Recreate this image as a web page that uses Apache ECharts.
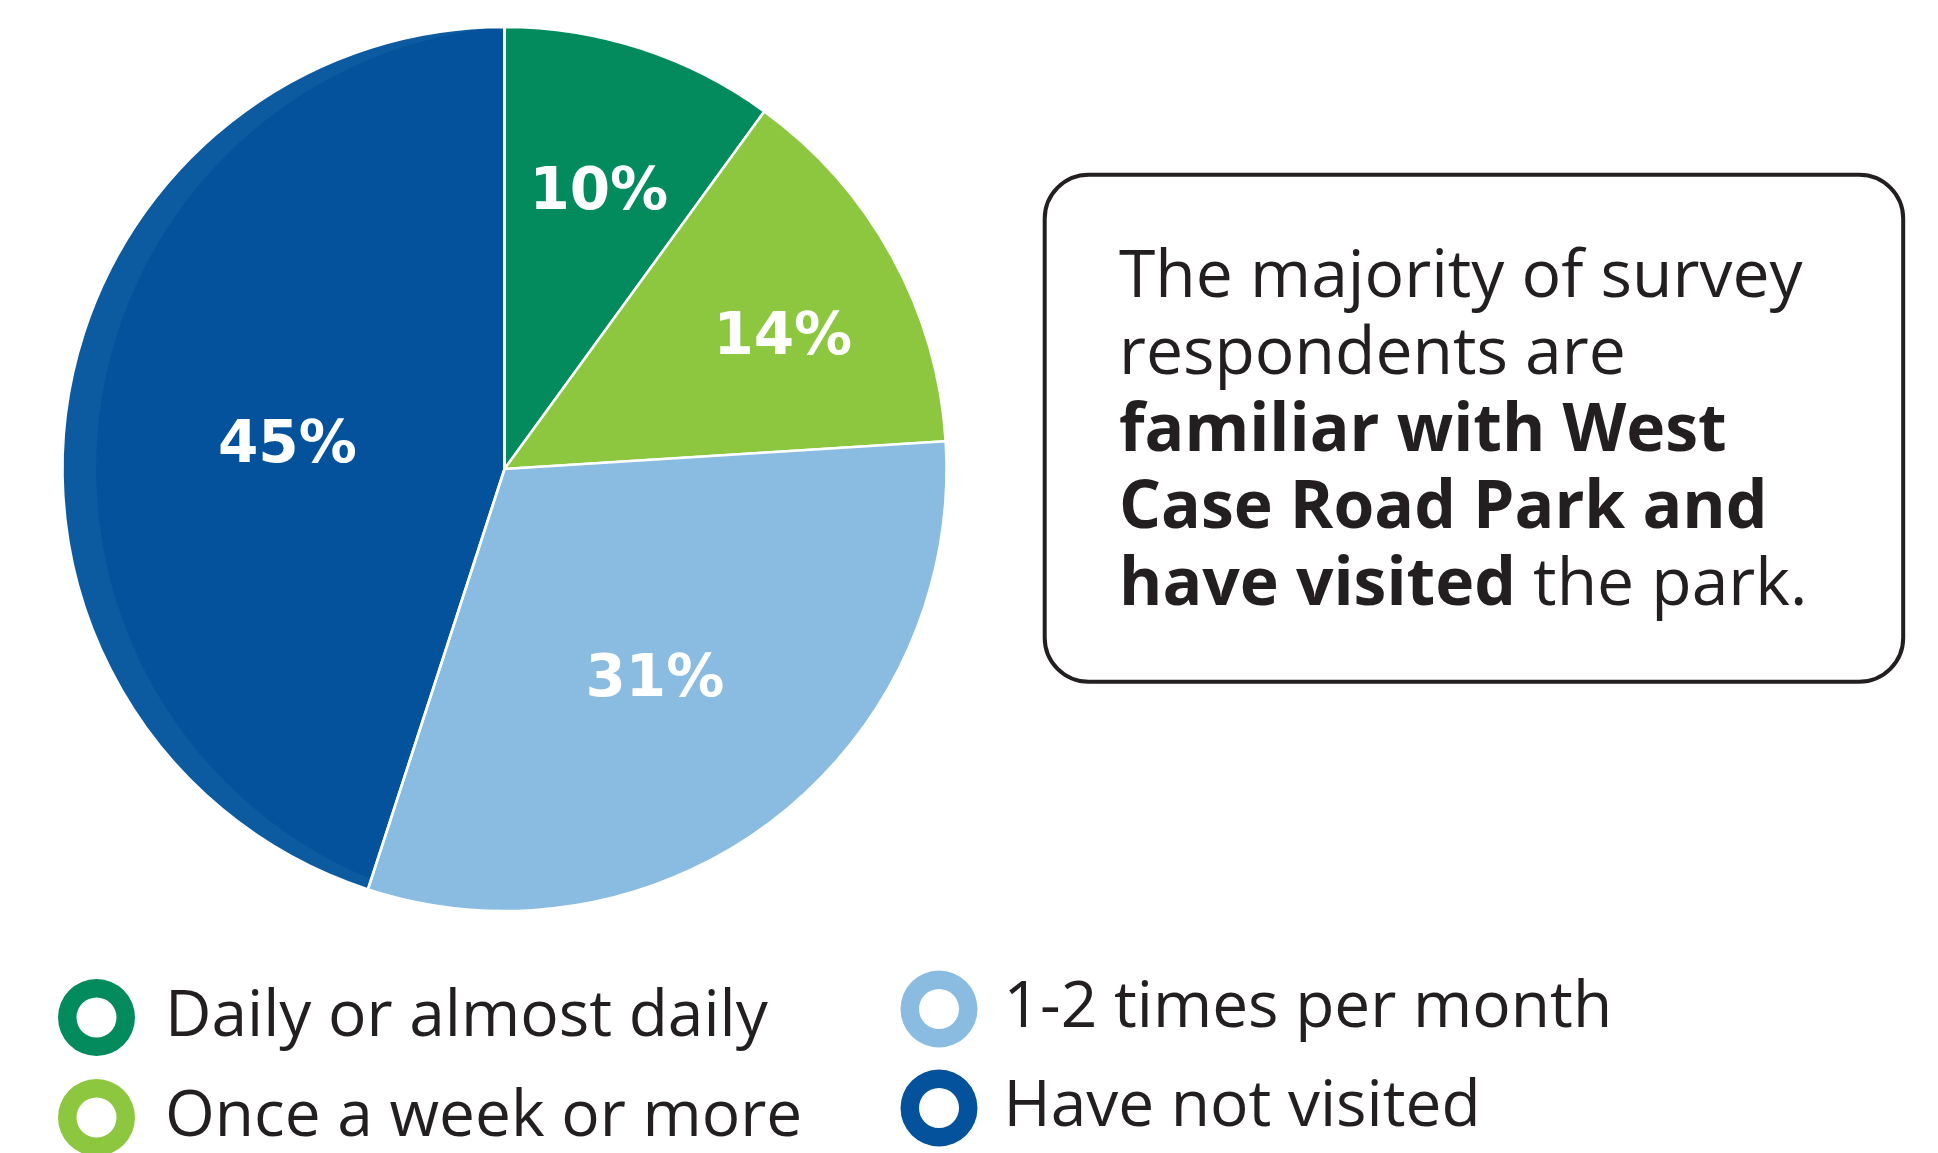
<!DOCTYPE html>
<html>
<head>
<meta charset="utf-8">
<script src="https://cdn.jsdelivr.net/npm/echarts@6/dist/echarts.min.js"></script>
<style>
html,body{margin:0;padding:0;background:#fff;}
#main{width:1938px;height:1153px;}
</style>
</head>
<body>
<div id="main"></div>
<script>
// ---- data ----
const categories = ['Daily or almost daily', 'Once a week or more', '1-2 times per month', 'Have not visited'];
const shares = [10, 14, 31, 45];
const sliceColors = ['#038b5d', '#8dc63f', '#89bce0', '#04529b'];

// ---- style constants ----
const CX = 504.5, CY = 469, R = 442;
const rimShift = 35;           // horizontal offset of the inner shading disc
const rimColor = '#0c5ba0';    // lighter rim on the largest slice
const labelRadius = [0.669, 0.700, 0.579, 0.495];
const labelAngleShift = [0.6, 2.9, 1.8, -1.9];
const labelDrop = 5;
const textColor = '#231f20';
const ringIcon = 'path://M0,38.5A38.5,38.5 0 1,1 77,38.5A38.5,38.5 0 1,1 0,38.5Z' +
                 'M18.5,38.5A20,20 0 1,0 58.5,38.5A20,20 0 1,0 18.5,38.5Z';

const total = shares.reduce((a, b) => a + b, 0);
function midAngle(i) {
  let before = 0;
  for (let k = 0; k < i; k++) before += shares[k];
  return (before + shares[i] / 2) / total * 360 + labelAngleShift[i];
}

const pieData = (mode) => categories.map((n, i) => {
  let color = sliceColors[i];
  if (i === 3 && mode === 'base') color = rimColor;
  if (i === 3 && mode === 'top') color = 'rgba(0,0,0,0)';
  return { name: n, value: shares[i], itemStyle: { color: color } };
});

// inner shading disc geometry (tangent to the outer circle at top and bottom)
const rimR = Math.sqrt(rimShift * rimShift + R * R);
const tilt = Math.atan(rimShift / R) * 180 / Math.PI;

const chart = echarts.init(document.getElementById('main'), null, { renderer: 'canvas' });

const legendText = (padLeft) => ({
  fontFamily: 'Open Sans', fontSize: 64, color: textColor,
  padding: [0, 0, 0, padLeft], lineHeight: 70
});
const legendData = (from, to) => categories.slice(from, to).map((n, j) => ({
  name: n, icon: ringIcon,
  itemStyle: { color: sliceColors[from + j], borderWidth: 0 }
}));

const option = {
  animation: false,
  backgroundColor: '#fff',
  legend: [
    {
      orient: 'vertical', left: 58, top: 979, height: 180, itemWidth: 77, itemHeight: 77,
      itemGap: 23, padding: 0, selectedMode: false,
      data: legendData(0, 2), textStyle: legendText(25)
    },
    {
      orient: 'vertical', left: 900.5, top: 970.5, height: 180, itemWidth: 77, itemHeight: 77,
      itemGap: 22, padding: 0, selectedMode: false,
      data: legendData(2, 4), textStyle: legendText(21)
    }
  ],
  series: [
    {
      type: 'pie', z: 1, silent: true, center: [CX, CY], radius: R,
      startAngle: 90, clockwise: true, label: { show: false }, labelLine: { show: false },
      emphasis: { disabled: true },
      itemStyle: { borderWidth: 0 },
      data: pieData('base')
    },
    {
      type: 'pie', z: 2, silent: true, center: [CX + rimShift, CY], radius: rimR,
      startAngle: 90 - (180 + tilt), clockwise: true,
      label: { show: false }, labelLine: { show: false },
      emphasis: { disabled: true }, legendHoverLink: false,
      itemStyle: { borderWidth: 0 },
      data: [
        { name: 'rim-inner', value: 180 - 2 * tilt, itemStyle: { color: sliceColors[3] } },
        { name: 'rim-gap', value: 180 + 2 * tilt, itemStyle: { color: 'rgba(0,0,0,0)' } }
      ]
    },
    {
      type: 'pie', z: 3, silent: true, center: [CX, CY], radius: R,
      startAngle: 90, clockwise: true,
      emphasis: { disabled: true },
      itemStyle: { borderColor: '#ffffff', borderWidth: 2.5 },
      label: {
        show: true, position: 'inside', formatter: '{c}%',
        fontFamily: 'DejaVu Sans', fontWeight: 'bold', fontSize: 58, color: '#ffffff'
      },
      labelLine: { show: false },
      labelLayout: function (p) {
        const i = p.dataIndex;
        const a = midAngle(i) * Math.PI / 180;
        const rr = R * labelRadius[i];
        return { x: CX + rr * Math.sin(a), y: CY - rr * Math.cos(a) + labelDrop, align: 'center', verticalAlign: 'middle' };
      },
      data: pieData('top')
    }
  ],
  graphic: [
    {
      type: 'rect', z: 10,
      shape: { x: 1044.7, y: 174.7, width: 858.5, height: 507, r: 44 },
      style: { fill: '#ffffff', stroke: textColor, lineWidth: 4 }
    },
    {
      type: 'text', z: 11, x: 1119, y: 240,
      style: {
        text: 'The majority of survey\nrespondents are\n{b|familiar with West}\n{b|Case Road Park and}\n{b|have visited} the park.',
        fontFamily: 'Open Sans', fontSize: 66, fill: textColor, lineHeight: 77,
        verticalAlign: 'top', align: 'left',
        rich: {
          b: { fontFamily: 'Open Sans', fontWeight: 'bold', fontSize: 66, fill: textColor, lineHeight: 77 }
        }
      }
    }
  ]
};
chart.setOption(option);
</script>
</body>
</html>
